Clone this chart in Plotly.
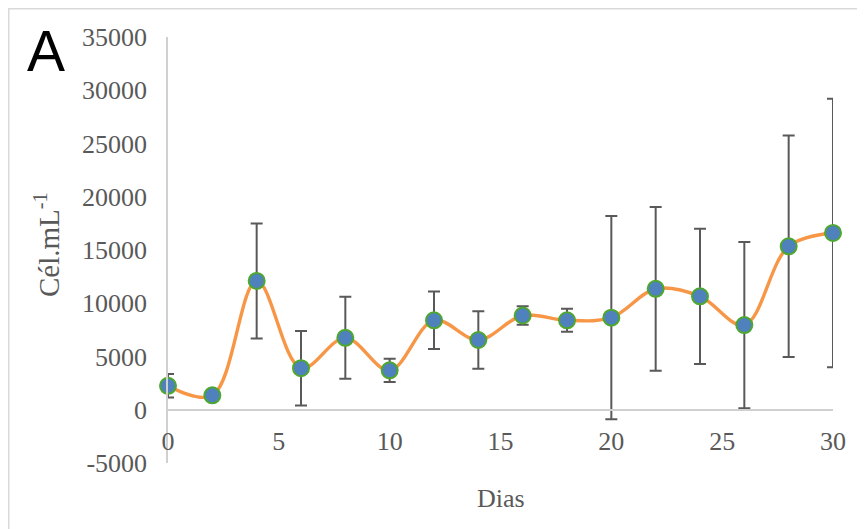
import plotly.graph_objects as go

dias = [0, 2, 4, 6, 8, 10, 12, 14, 16, 18, 20, 22, 24, 26, 28, 30]
celulas = [2250, 1350, 12100, 3900, 6750, 3700, 8400, 6550, 8850, 8400, 8650, 11350, 10650, 7950, 15350, 16600]
desvio = [1100, 250, 5400, 3500, 3850, 1100, 2700, 2700, 870, 1080, 9550, 7680, 6350, 7800, 10400, 12600]
x_ticks = [0, 5, 10, 15, 20, 25, 30]
y_ticks = [-5000, 0, 5000, 10000, 15000, 20000, 25000, 30000, 35000]
y_tick_text = ["-5000", "0", "5000", "10000", "15000", "20000", "25000", "30000", "35000"]

# page body has an 8px margin; figure is drawn from (8, 8) of the window
OFF = 8
W, H = 865 - OFF, 529 - OFF
L, R, T, B = 168 - OFF, 32, 37 - OFF, 66
pw, ph = W - L - R, H - T - B

def px(xp):
    return (xp - OFF - L) / pw

def py(yp):
    return (H - B - (yp - OFF)) / ph

fig = go.Figure()
fig.add_trace(go.Scatter(
    x=dias, y=celulas,
    mode="lines+markers",
    line=dict(color="#F79646", width=3.4, shape="spline", smoothing=1),
    marker=dict(size=16, color="#4F81BD", line=dict(color="#4EA72E", width=2)),
    error_y=dict(type="data", array=desvio, visible=True, color="#595959", thickness=2, width=6),
    cliponaxis=False,
    showlegend=False,
))

gray = "#595959"
tfont = dict(family="Liberation Serif", size=26, color=gray)
fig.update_layout(
    width=W, height=H,
    margin=dict(l=L, r=R, t=T, b=B, autoexpand=False),
    paper_bgcolor="white", plot_bgcolor="white",
    xaxis=dict(range=[0, 30], tickvals=x_ticks, ticktext=[str(v) for v in x_ticks],
               showgrid=False, zeroline=False,
               showline=True, linecolor="#D0D0D0", linewidth=1.5,
               anchor="free", position=(0 - (-5000)) / 40000,
               ticks="", ticklabelstandoff=8,
               tickfont=tfont),
    yaxis=dict(range=[-5000, 35000], tickvals=y_ticks, ticktext=y_tick_text,
               showgrid=False, zeroline=False,
               showline=True, linecolor="#D0D0D0", linewidth=1.5,
               ticks="", ticklabelstandoff=14,
               tickfont=tfont),
    annotations=[
        dict(text="Dias", xref="paper", yref="paper", x=0.5, y=py(498),
             xanchor="center", yanchor="middle", showarrow=False, font=tfont),
        dict(text="Cél.mL<sup>-1</sup>", xref="paper", yref="paper", x=px(47), y=py(245),
             xanchor="center", yanchor="middle", textangle=-90, showarrow=False,
             font=dict(family="Liberation Serif", size=29, color=gray)),
        dict(text="A", xref="paper", yref="paper", x=px(46), y=py(51),
             xanchor="center", yanchor="middle", showarrow=False,
             font=dict(family="Liberation Sans", size=57, color="black")),
    ],
    shapes=[
        dict(type="path", xref="paper", yref="paper",
             path=f"M {px(8.75)} {py(540)} L {px(8.75)} {py(8.75)} L {px(880)} {py(8.75)}",
             line=dict(color="#D9D9D9", width=1.5), layer="below"),
    ],
)

fig.write_html("out.html")
